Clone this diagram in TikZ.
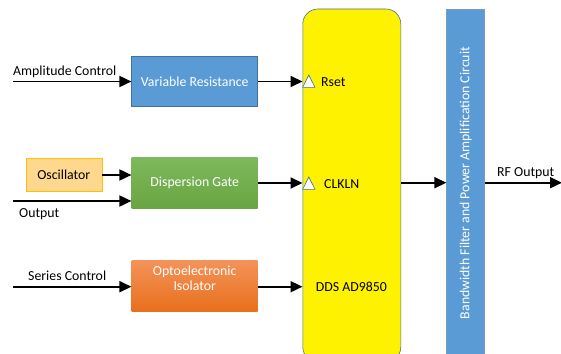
\documentclass[tikz,border=0pt]{standalone}
\usepackage{fontspec}
\setmainfont{Carlito}
\usetikzlibrary{arrows.meta}
\definecolor{boxblue}{HTML}{5B9BD5}
\definecolor{boxblueline}{HTML}{41719C}
\definecolor{oscfill}{HTML}{FFD88F}
\definecolor{oscline}{HTML}{FFC000}
\definecolor{greentop}{HTML}{7DB95D}
\definecolor{greenbot}{HTML}{69A541}
\definecolor{orangetop}{HTML}{F4935A}
\definecolor{orangebot}{HTML}{E8701D}
\tikzset{
  txt/.style={font=\fontsize{13.8}{16}\selectfont},
  blk/.style={txt, draw=boxblueline, line width=0.6pt, text=white, align=center,
    minimum width=126pt, minimum height=50pt, inner sep=0pt},
  lbl/.style={txt, inner sep=0pt, anchor=base west},
  arr/.style={line width=1.8pt, -{Triangle[length=12pt,width=11pt]}},
  pin/.style={draw=boxblueline, fill=white, line width=0.6pt},
}
\begin{document}
\begin{tikzpicture}[x=1pt,y=-1pt]
  \useasboundingbox (0,0) rectangle (561,353);
  \clip (0,0) rectangle (561,353);

  % chip and output stage
  \node[draw=boxblueline, line width=0.6pt, fill=yellow, rounded corners=15pt,
        minimum width=98pt, minimum height=353pt, inner sep=0pt] (dds) at (351.8,185.5) {};
  \node[draw=boxblueline!70, line width=0.6pt, fill=boxblue, minimum width=38pt,
        minimum height=351pt, inner sep=0pt] (bar) at (465.7,184.5) {};
  \node[txt, text=white, rotate=90] (bartxt) at (465.7,183) {Bandwidth Filter and Power Amplification Circuit};

  % input blocks
  \node[blk, fill=boxblue] (vr) at (194.7,81.5) {Variable Resistance};
  \node[blk, draw=none, top color=greentop, bottom color=greenbot, minimum height=51pt] (dg) at (194.7,183) {Dispersion Gate};
  \node[blk, draw=none, top color=orangetop, bottom color=orangebot, minimum height=51pt,
        text height=10pt] (opto) at (194.7,285.5) {Optoelectronic\\[-1pt]Isolator};
  \node[txt, draw=oscline, line width=0.6pt, fill=oscfill, minimum width=76pt,
        minimum height=33pt, inner sep=0pt] (osc) at (63.8,175) {Oscillator};

  % free ends of the connectors
  \coordinate (acin) at (13.3,81.5);
  \coordinate (outin) at (13.3,201);
  \coordinate (scin) at (13.3,286.7);
  \coordinate (rfout) at (562,182.7);

  % labels
  \node[lbl] (aclbl) at (13,75.5) {Amplitude Control};
  \node[lbl] (outlbl) at (19,217) {Output};
  \node[lbl] (sclbl) at (28,280.5) {Series Control};
  \node[lbl] (rflbl) at (497,176.5) {RF Output};
  \node[lbl] (rset) at (321,86.5) {Rset};
  \node[lbl] (clk) at (324,188.5) {CLKLN};
  \node[lbl] (ddslbl) at (315.7,291.5) {DDS AD9850};

  % pin markers on the chip edge
  \draw[pin] (302.7,87.3) -- (308.8,75) -- (315,87.3) -- cycle;
  \draw[pin] (302.7,189.3) -- (308.8,177) -- (315,189.3) -- cycle;

  % connectors
  \draw[arr] (acin) -- (acin -| vr.west);
  \draw[arr] (vr) -- (vr -| dds.west);
  \draw[arr] (osc) -- (osc -| dg.west);
  \draw[arr] (outin) -- (outin -| dg.west);
  \draw[arr] (dg) -- (dg -| dds.west);
  \draw[arr] (scin) -- (scin -| opto.west);
  \draw[arr] (scin -| opto.east) -- (scin -| dds.west);
  \draw[arr] (rfout -| dds.east) -- (rfout -| bar.west);
  \draw[arr] (rfout -| bar.east) -- (rfout);
\end{tikzpicture}
\end{document}
